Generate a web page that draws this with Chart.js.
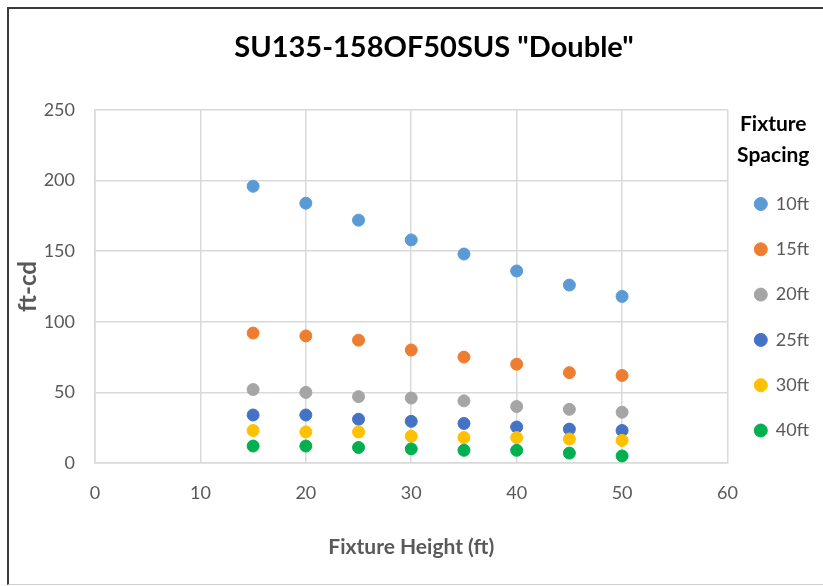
<!DOCTYPE html>
<html>
<head>
<meta charset="utf-8">
<script src="https://cdn.jsdelivr.net/npm/chart.js@4.4.1/dist/chart.umd.min.js"></script>
<style>
  html, body { margin: 0; padding: 0; background: #ffffff; }
  #wrap { position: relative; width: 823px; height: 586px; overflow: hidden; }
  #frame { position: absolute; left: 7px; top: 7px; width: 900px; height: 575px;
           border-left: 2px solid #3a3a3a; border-top: 2px solid #3a3a3a; border-bottom: 1px solid #d0d0d0; }
  canvas { position: absolute; left: 0; top: 0; }
</style>
</head>
<body>
<div id="wrap"><div id="frame"></div><canvas id="c" width="823" height="586"></canvas></div>
<script>
// ---- data ----
const chartTitle = 'SU135-158OF50SUS "Double"';
const xAxisTitle = 'Fixture Height (ft)';
const yAxisTitle = 'ft-cd';
const legendTitle = ['Fixture', 'Spacing'];
const fixtureHeights = [15, 20, 25, 30, 35, 40, 45, 50];
const seriesNames = ['10ft', '15ft', '20ft', '25ft', '30ft', '40ft'];
const spacing10ft = [196, 184, 172, 158, 148, 136, 126, 118];
const spacing15ft = [92, 90, 87, 80, 75, 70, 64, 62];
const spacing20ft = [52, 50, 47, 46, 44, 40, 38, 36];
const spacing25ft = [34, 34, 31, 29.5, 28, 25.5, 24, 23];
const spacing30ft = [23, 22, 22, 19, 18, 18, 17, 16];
const spacing40ft = [12, 12, 11, 10, 9, 9, 7, 5];
const xTicks = { min: 0, max: 60, step: 10 };
const yTicks = { min: 0, max: 250, step: 50 };

const seriesValues = [spacing10ft, spacing15ft, spacing20ft, spacing25ft, spacing30ft, spacing40ft];
const seriesColors = ['#5B9BD5', '#ED7D31', '#A5A5A5', '#4472C4', '#FFC000', '#00B050'];

const datasets = seriesNames.map((name, i) => ({
  label: name,
  data: fixtureHeights.map((h, j) => ({ x: h, y: seriesValues[i][j] })),
  backgroundColor: seriesColors[i],
  borderColor: seriesColors[i],
  pointRadius: 6,
  pointHoverRadius: 6,
  pointBorderWidth: 1,
  showLine: false,
  order: seriesNames.length - i   // later series drawn on top
}));

const gridColor = '#D9D9D9';
const textGray = '#595959';

const shiftTitle = {
  id: 'shiftTitle',
  afterLayout(chart) {
    const t = chart.titleBlock;
    if (t) { t.left += 20.5; t.right += 20.5; }
  }
};

new Chart(document.getElementById('c'), {
  type: 'scatter',
  data: { datasets },
  plugins: [shiftTitle],
  options: {
    responsive: false,
    animation: false,
    events: [],
    layout: { padding: { top: 8, left: 8, right: 4, bottom: 10 } },
    plugins: {
      tooltip: { enabled: false },
      title: {
        display: true,
        text: chartTitle,
        color: '#000000',
        font: { family: 'Lato', size: 29, weight: 'bold', lineHeight: 1.2 },
        padding: { top: 22.6, bottom: 44.6 }
      },
      legend: {
        position: 'right',
        align: 'start',
        title: {
          display: true,
          text: legendTitle,
          color: '#000000',
          font: { family: 'Lato', size: 21, weight: 'bold', lineHeight: '31px' },
          padding: { top: 105.5, bottom: 23.2 }
        },
        labels: {
          usePointStyle: true,
          pointStyle: 'circle',
          boxWidth: 12,
          boxHeight: 9.2,
          padding: 27.3,
          color: textGray,
          font: { family: 'Lato', size: 18 },
          sort: (a, b) => a.datasetIndex - b.datasetIndex
        }
      }
    },
    scales: {
      x: {
        type: 'linear',
        min: xTicks.min, max: xTicks.max,
        ticks: { stepSize: xTicks.step, color: textGray, font: { family: 'Lato', size: 18 }, padding: 19 },
        grid: { color: gridColor, lineWidth: 1.5, drawTicks: false },
        border: { color: gridColor, width: 1.5 },
        title: {
          display: true, text: xAxisTitle, color: textGray,
          font: { family: 'Lato', size: 21, weight: 'bold', lineHeight: 1.2 },
          padding: { top: 0, bottom: 16.4 }
        },
        afterFit(scale) { scale.height = 113; }
      },
      y: {
        type: 'linear',
        min: yTicks.min, max: yTicks.max,
        ticks: { stepSize: yTicks.step, color: textGray, font: { family: 'Lato', size: 18 }, padding: 20 },
        grid: { color: gridColor, lineWidth: 1.5, drawTicks: false },
        border: { color: gridColor, width: 1.5 },
        title: {
          display: true, text: yAxisTitle, color: textGray,
          font: { family: 'Lato', size: 24, weight: 'bold', lineHeight: 1.2 },
          padding: { top: 5.6, bottom: 0 }
        },
        afterFit(scale) { scale.width = 87; }
      }
    }
  }
});
</script>
</body>
</html>
